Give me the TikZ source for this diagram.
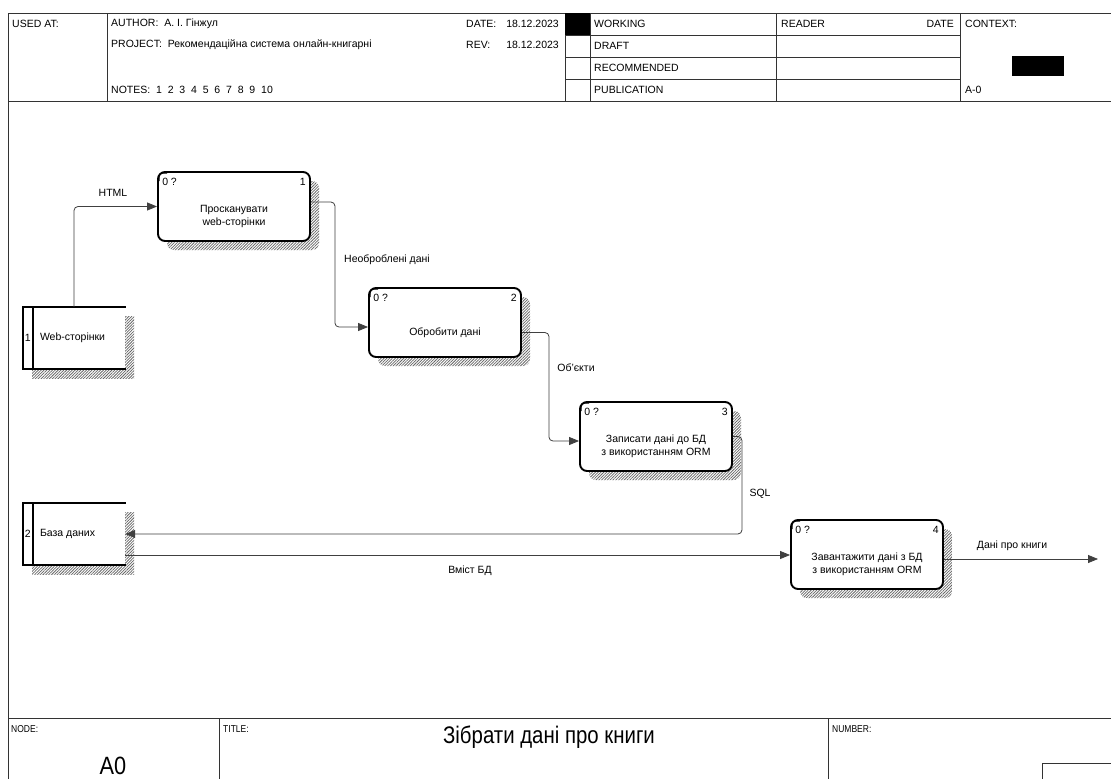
\documentclass[tikz,border=0pt]{standalone}
\usepackage{fontspec}
\setmainfont{Liberation Sans}
\usepackage{graphicx}
\usetikzlibrary{arrows.meta,patterns.meta,shadows}

\tikzset{
  hatch/.style={pattern={Lines[angle=45,distance=2pt,line width=0.75pt]}, pattern color=black!60},
  boxshadow/.style={general shadow={shadow xshift=9pt, shadow yshift=-9pt, hatch}},
  act/.style={draw=black, line width=1.9pt, rounded corners=7pt, fill=white,
    minimum width=152pt, minimum height=69pt, inner sep=0pt, boxshadow},
  store/.style={fill=white, minimum width=102pt, minimum height=62pt, inner sep=0pt, boxshadow},
  edge/.style={line width=1.9pt, line cap=rect},
  flow/.style={draw=black!75, line width=0.8pt, rounded corners=4pt,
    -{Triangle[length=10pt,width=8pt]}},
  txt/.style={font=\fontsize{10.5}{12.5}\selectfont, inner sep=0pt},
  lbl/.style={txt, align=center},
  frame/.style={draw=black!80, line width=0.9pt},
  small/.style={font=\fontsize{10}{12}\selectfont, inner sep=0pt, anchor=north west}
}

\newcommand{\boxnum}[3]{% node name, number, main text
  \node[txt, anchor=north west] at ([shift={(5,7)}]#1.north west) {0 ?};
  \node[txt, anchor=north east] at ([shift={(-5,7)}]#1.north east) {#2};
  \node[lbl] at ([shift={(0,10)}]#1.center) {#3};
  \draw[line width=1pt] ([shift={(2,10)}]#1.north west) .. controls ([shift={(2,2)}]#1.north west) .. ([shift={(10,2)}]#1.north west);
}

\newcommand{\storeframe}[3]{% node name, number, text
  \draw[edge] (#1.north east) -- (#1.north west) -- (#1.south west) -- (#1.south east);
  \draw[edge] ([xshift=10pt]#1.north west) -- ([xshift=10pt]#1.south west);
  \node[txt] at ([xshift=5pt]#1.west) {#2};
  \node[txt, anchor=west] at ([xshift=17pt]#1.west) {#3};
}

\begin{document}
\begin{tikzpicture}[x=1pt, y=-1pt]
\useasboundingbox (0,0) rectangle (1111,779);
\fill[white] (0,0) rectangle (1111,779);

% ---- header frame ----
\draw[frame] (1113,13) -- (8,13) -- (8,1113) ;
\draw[frame] (8,101) -- (1113,101);
\draw[frame] (107,13) -- (107,101);
\draw[frame] (565,13) -- (565,101);
\draw[frame] (590,13) -- (590,101);
\draw[frame] (776,13) -- (776,101);
\draw[frame] (960,13) -- (960,101);
\foreach \yy in {35,57,79} \draw[frame] (565,\yy) -- (960,\yy);
\fill[black] (565,13) rectangle (590,35);
\fill[black] (1012,56) rectangle (1064,76);

\node[txt, anchor=west] (usedat) at (12,24) {USED AT:};
\node[txt, anchor=west] (author) at (111,24) {AUTHOR:\ \ А. І. Гінжул};
\node[txt, anchor=west] (project) at (111,45) {PROJECT:\ \ Рекомендаційна система онлайн-книгарні};
\node[txt, anchor=west] (notes) at (111,90) {NOTES:\ \ 1\ \ 2\ \ 3\ \ 4\ \ 5\ \ 6\ \ 7\ \ 8\ \ 9\ \ 10};
\node[txt, anchor=west] (datek) at (466,24) {DATE:};
\node[txt, anchor=east] (datev) at (559,24) {18.12.2023};
\node[txt, anchor=west] (revk) at (466,45) {REV:};
\node[txt, anchor=east] (revv) at (559,45) {18.12.2023};
\node[txt, anchor=west] (working) at (594,24) {WORKING};
\node[txt, anchor=west] (draft) at (594,46) {DRAFT};
\node[txt, anchor=west] (recom) at (594,68) {RECOMMENDED};
\node[txt, anchor=west] (public) at (594,90) {PUBLICATION};
\node[txt, anchor=west] (reader) at (781,24) {READER};
\node[txt, anchor=east] (rdate) at (954,24) {DATE};
\node[txt, anchor=west] (context) at (965,24) {CONTEXT:};
\node[txt, anchor=west] (ctxnode) at (965,90) {A-0};

% ---- footer ----
\draw[frame] (8,718) -- (1113,718);
\draw[frame] (219,718) -- (219,781);
\draw[frame] (828,718) -- (828,781);
\draw[frame] (1042,781) -- (1042,763) -- (1113,763);
\node[small] (nodek) at (11,725) {\scalebox{0.85}[1]{NODE:}};
\node[small] (titlek) at (223,725) {\scalebox{0.85}[1]{TITLE:}};
\node[small] (numk) at (832,725) {\scalebox{0.85}[1]{NUMBER:}};
\node[inner sep=0pt, font=\fontsize{24}{28}\selectfont] (title) at (549,737) {\scalebox{0.85}[1]{Зібрати дані про книги}};
\node[inner sep=0pt, font=\fontsize{25}{28}\selectfont] (nodev) at (113,766) {\scalebox{0.87}[1]{A0}};

% ---- external entities ----
\node[store] (web) at (74,338) {};
\storeframe{web}{1}{Web-сторінки}
\node[store] (db) at (74,534) {};
\storeframe{db}{2}{База даних}

% ---- activities ----
\node[act] (b1) at (234,206.5) {};
\boxnum{b1}{1}{Просканувати\\web-сторінки}
\node[act] (b2) at (445,322.5) {};
\boxnum{b2}{2}{Обробити дані}
\node[act] (b3) at (656,436.5) {};
\boxnum{b3}{3}{Записати дані до БД\\з використанням ORM}
\node[act] (b4) at (867,554.5) {};
\boxnum{b4}{4}{Завантажити дані з БД\\з використанням ORM}

\coordinate (out) at (1098,559);

% ---- connectors ----
\draw[flow] (web.north) |- (b1.west);
\draw[flow] ([yshift=4.5pt]b1.east) -- ++(24,0) |- ([yshift=-4.5pt]b2.west);
\draw[flow] ([yshift=-10pt]b2.east) -- ++(27,0) |- ([yshift=-4.5pt]b3.west);
\draw[flow] (b3.east) -- ++(9,0) |- (db.east);
\draw[flow] ([yshift=-21pt]db.east) -- ([yshift=-21pt]db.east -| b4.west);
\draw[flow] ([yshift=-4.5pt]b4.east) -- (out);

% ---- connector labels ----
\node[txt] (lhtml) at (113,193) {HTML};
\node[txt] (lraw) at (387,260) {Необроблені дані};
\node[txt] (lobj) at (576,368) {Об’єкти};
\node[txt] (lsql) at (760,494) {SQL};
\node[txt] (lcont) at (470,571) {Вміст БД};
\node[txt] (lout) at (1012,546) {Дані про книги};
\end{tikzpicture}
\end{document}
